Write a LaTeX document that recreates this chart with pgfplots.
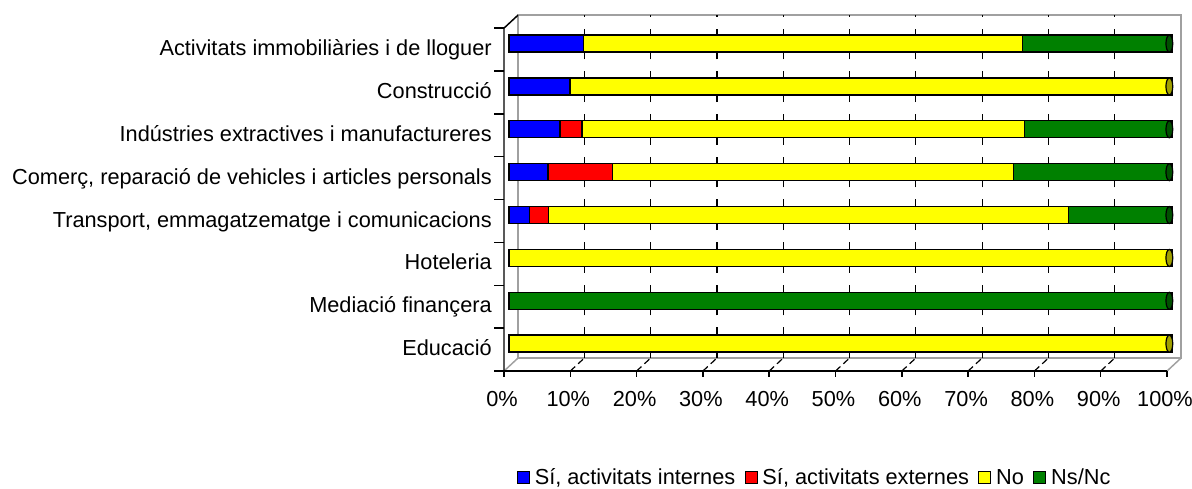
\documentclass[border=0pt]{standalone}
\usepackage{pgfplots}
\pgfplotsset{compat=1.18}
\usepackage{fontspec}
\setmainfont{Liberation Sans}
\definecolor{cblue}{RGB}{0,0,255}
\definecolor{cred}{RGB}{255,0,0}
\definecolor{cyellow}{RGB}{255,255,0}
\definecolor{cgreen}{RGB}{0,128,0}
\definecolor{capyellow}{RGB}{160,160,0}
\definecolor{capgreen}{RGB}{0,80,0}
\definecolor{wallgray}{RGB}{160,160,160}
\newcommand{\lblfont}{\fontsize{16.3}{19}\selectfont}
\begin{document}
\begin{tikzpicture}
% bounding box: 1192 x 489 px at 0.75pt/px, origin at the axis box's lower left
\path[use as bounding box] (-381.75pt,-92.9pt) rectangle (512.25pt,273.8pt);
% 3D frame (decoration)
\draw[wallgray, line width=1.1pt] (6.75pt,5.25pt) rectangle (503.999pt,262.45pt);
\foreach \k in {1,...,9}{
  \draw[black, line width=0.9pt, dash pattern=on 7pt off 9pt] (6.75pt+\k*49.725pt,5.25pt) -- (6.75pt+\k*49.725pt,262.45pt);
  \draw[black, line width=0.9pt, dash pattern=on 5pt off 3pt] (-3.75pt+\k*49.725pt,-4.5pt) -- (6.75pt+\k*49.725pt,5.25pt);
}
\draw[wallgray, line width=1.1pt] (-3.75pt,-4.5pt) -- (6.75pt,5.25pt);
\draw[wallgray, line width=1.1pt] (493.5pt,-4.5pt) -- (503.999pt,5.25pt);
\draw[black, line width=1.1pt] (-3.75pt,-4.5pt) -- (493.5pt,-4.5pt);
\draw[black, line width=1.1pt] (-3.75pt,-4.5pt) -- (-3.75pt,252.7pt) -- (6.75pt,262.45pt);
\foreach \k in {0,...,10}{
  \draw[black, line width=1.1pt] (-3.75pt+\k*49.725pt,-4.5pt) -- ++(0,-4.5pt);
}
\foreach \j in {0,...,8}{
  \draw[black, line width=1.1pt] (-3.75pt,-4.5pt+\j*32.15pt) -- ++(-7.5pt,0);
}
\begin{axis}[
  at={(0,0)}, anchor=south west,
  scale only axis, width=497.25pt, height=257.2pt,
  xmin=0, xmax=100, ymin=-0.5, ymax=7.5,
  xbar stacked, bar width=12.75pt,
  axis line style={draw=none}, tick style={draw=none}, major tick length=0pt,
  clip=false,
  ytick={0,1,2,3,4,5,6,7},
  yticklabels={Educació, Mediació finançera, Hoteleria, {Transport, emmagatzematge i comunicacions}, {Comerç, reparació de vehicles i articles personals}, Indústries extractives i manufactureres, Construcció, Activitats immobiliàries i de lloguer},
  yticklabel style={anchor=base east, inner sep=0pt, xshift=-12.75pt, yshift=-9pt, font=\lblfont},
  xtick={0,10,20,30,40,50,60,70,80,90,100},
  xticklabels={0\%,10\%,20\%,30\%,40\%,50\%,60\%,70\%,80\%,90\%,100\%},
  xticklabel style={anchor=base, inner sep=0pt, xshift=-5.25pt, yshift=-30.75pt, font=\lblfont},
  every axis plot/.append style={draw=black, line width=1pt},
  legend columns=4,
  legend style={at={(0.4615,-0.329)}, anchor=center, draw=none, fill=none, font=\lblfont,
    /tikz/every even column/.append style={column sep=5pt}},
  legend image code/.code={\draw[#1, draw=black, line width=0.8pt] (0pt,-4.3pt) rectangle (9pt,4.7pt); \path[draw=none, fill=none] (0pt,0pt) -- (11pt,0pt);},
]
\addplot[fill=cblue] coordinates {(0,0) (0,1) (0,2) (3.1,3) (5.9,4) (7.7,5) (9.2,6) (11.2,7)};
\addlegendentry{Sí, activitats internes}
\addplot[fill=cred] coordinates {(0,0) (0,1) (0,2) (2.9,3) (9.7,4) (3.3,5) (0,6) (0,7)};
\addlegendentry{Sí, activitats externes}
\addplot[fill=cyellow] coordinates {(100,0) (0,1) (100,2) (78.4,3) (60.5,4) (66.8,5) (90.8,6) (66.3,7)};
\addlegendentry{No}
\addplot[fill=cgreen] coordinates {(0,0) (100,1) (0,2) (15.6,3) (23.9,4) (22.2,5) (0,6) (22.5,7)};
\addlegendentry{Ns/Nc}
\end{axis}
\begin{axis}[
  at={(0,0)}, anchor=south west,
  scale only axis, width=497.25pt, height=257.2pt,
  xmin=0, xmax=100, ymin=-0.5, ymax=7.5,
  hide axis, clip=false,
]
\addplot[only marks, mark=*, mark size=6.375pt, mark options={xscale=0.4, fill=capyellow, draw=black, line width=0.9pt}] coordinates {(99.6,0) (99.6,2) (99.6,6)};
\addplot[only marks, mark=*, mark size=6.375pt, mark options={xscale=0.4, fill=capgreen, draw=black, line width=0.9pt}] coordinates {(99.6,1) (99.6,3) (99.6,4) (99.6,5) (99.6,7)};
\end{axis}
\end{tikzpicture}
\end{document}
